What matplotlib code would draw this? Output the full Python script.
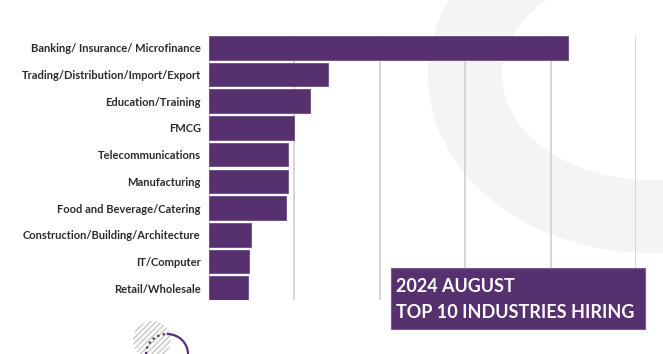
import numpy as np
import matplotlib.pyplot as plt
from matplotlib.patches import Ellipse, Circle, Rectangle, Arc

industries = ['Banking/ Insurance/ Microfinance',
              'Trading/Distribution/Import/Export',
              'Education/Training',
              'FMCG',
              'Telecommunications',
              'Manufacturing',
              'Food and Beverage/Catering',
              'Construction/Building/Architecture',
              'IT/Computer',
              'Retail/Wholesale']
share = [21.0, 6.96, 5.9, 4.97, 4.62, 4.62, 4.5, 2.46, 2.34, 2.28]
grid_ticks = [0, 5, 10, 15, 20, 25]

purple = '#57306f'
W, H = 663, 354

fig = plt.figure(figsize=(W / 100, H / 100), dpi=100)
fig.patch.set_facecolor('white')

# background decoration (pixel coords, y down)
bg = fig.add_axes([0, 0, 1, 1], zorder=0)
bg.set_xlim(0, W)
bg.set_ylim(H, 0)
bg.axis('off')
bg.add_patch(Ellipse((650, 75), 444, 356, color='#f4f4f4', lw=0))
bg.add_patch(Ellipse((650, 75), 296, 210, color='white', lw=0))
bg.add_patch(Circle((152, 340), 19, facecolor='none', edgecolor='#c8c8c8',
                    hatch='//////', lw=0))
bg.add_patch(Arc((167, 354), 42, 40, theta1=180, theta2=270, color=purple,
                 lw=1.6, ls=(0, (1, 1.5))))
bg.add_patch(Arc((167, 354), 42, 40, theta1=270, theta2=360, color=purple, lw=1.6))

# bar chart
left, right, top, bottom = 209, 636, 36, 300
ax = fig.add_axes([left / W, 1 - bottom / H, (right - left) / W, (bottom - top) / H],
                  zorder=1)
ax.patch.set_alpha(0)
y = np.arange(len(industries))
ax.barh(y, share, height=0.88, color=purple, edgecolor='#6d4a85', linewidth=0.6,
        zorder=3)
ax.set_ylim(len(industries) - 1 + 0.44, -0.44)
ax.set_xlim(0, 25)
ax.set_xticks(grid_ticks)
ax.xaxis.grid(True, color='#d0d0d0', lw=1.2, zorder=0)
ax.tick_params(axis='x', length=0, labelbottom=False)
ax.tick_params(axis='y', length=0, pad=6)
ax.set_yticks(y)
ax.set_yticklabels(industries, fontsize=8.0, family='Lato', fontweight='bold',
                   color='#2b2b2b')
for s in ax.spines.values():
    s.set_visible(False)

# title box
box = fig.add_axes([0, 0, 1, 1], zorder=2)
box.set_xlim(0, W)
box.set_ylim(H, 0)
box.axis('off')
box.patch.set_alpha(0)
box.add_patch(Rectangle((391, 268), 254, 61, facecolor=purple,
                        edgecolor='#7a5a90', lw=0.8))
box.text(396, 287, '2024 AUGUST', color='white', fontsize=13, family='Lato',
         fontweight='bold', va='center')
box.text(396, 312, 'TOP 10 INDUSTRIES HIRING', color='white', fontsize=13,
         family='Lato', fontweight='bold', va='center')

fig.savefig('out.png', dpi=100)
